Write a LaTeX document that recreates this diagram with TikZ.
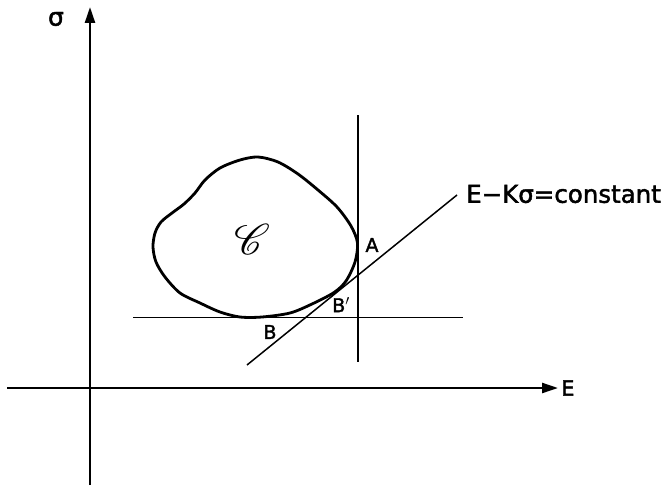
\documentclass[tikz,border=0pt]{standalone}
\usepackage{fontspec}
\setmainfont{DejaVu Sans}[FakeBold=1.8]
\usepackage{mathrsfs}
\usetikzlibrary{arrows.meta}
\begin{document}
\begin{tikzpicture}[x=1pt,y=-1pt,
  axis/.style={line width=2.4pt,-{Triangle[length=16pt,width=10pt]}},
  guide/.style={line width=1.8pt},
  diag/.style={line width=1.5pt},
  blob/.style={line width=2.8pt,line join=round},
  lab/.style={inner sep=0pt,font=\fontsize{19}{19}\selectfont},
  biglab/.style={inner sep=0pt,font=\fontsize{24.5}{24.5}\selectfont}]
\useasboundingbox (0,0) rectangle (663,487);
% axes
\coordinate (xs) at (7,388);
\coordinate (xe) at (558,388);
\coordinate (ys) at (90,485);
\coordinate (ye) at (90,7);
\draw[axis] (xs) -- (xe);
\draw[axis] (ys) -- (ye);
\node[lab,font=\fontsize{21}{21}\selectfont,anchor=west] (Elab) at (561,388) {E};
\node[lab,font=\fontsize{25}{25}\selectfont] (siglab) at (56,19) {σ};
% guide lines
\coordinate (vt) at (358,115);
\coordinate (vb) at (358,362);
\coordinate (hl) at (133,317.5);
\coordinate (hr) at (463,317.5);
\draw[guide] (vt) -- (vb);
\draw[guide] (hl) -- (hr);
\coordinate (ds) at (247,365);
\coordinate (de) at (457,195);
\draw[diag] (ds) -- (de);
% region
\draw[blob] plot[smooth cycle,tension=0.5] coordinates {
 (205,180) (220,168) (240,160) (258,157) (278,162) (298,174) (318,190)
 (337,207) (351,226) (357.5,243) (355,262) (346,281) (334,292.5)
 (312,304) (290,313) (262,317) (240,317) (220,312) (200,303) (180,293)
 (165,277) (156,262) (153,247) (155,233) (161,222) (172,213) (184,204)
 (195,193)};
% labels
\node[inner sep=0pt] (Cl) at (252,239) {\scalebox{4.3}{$\mathscr{C}$}};
\node[lab] (Al) at (372,245) {A};
\node[lab] (Bpl) at (341,305) {B$'$};
\node[lab] (Bl) at (270,332) {B};
\node[biglab,anchor=west] (eq) at (466,194) {E−Kσ=constant};
\end{tikzpicture}
\end{document}
